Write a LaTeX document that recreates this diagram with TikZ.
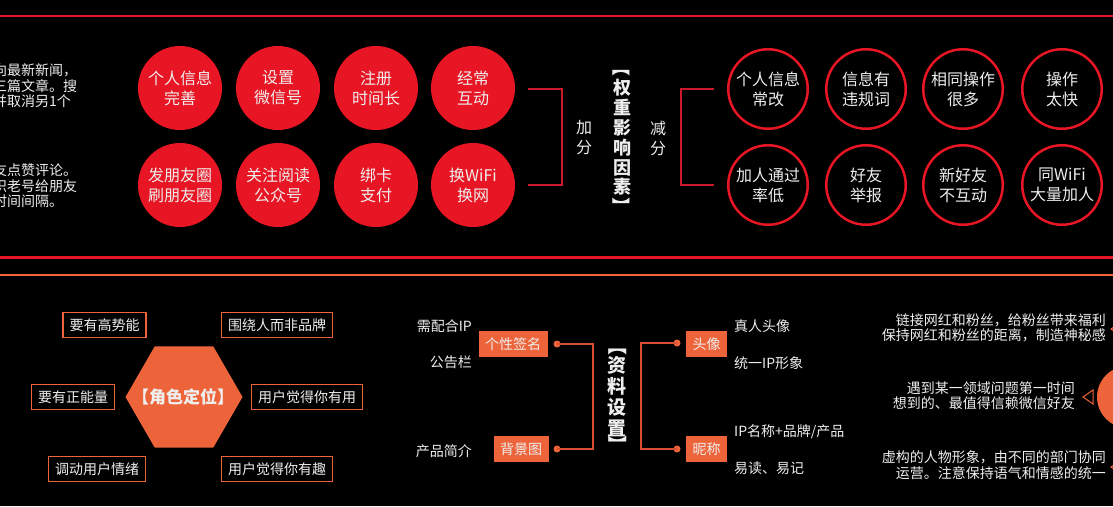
\documentclass[tikz,border=0pt]{standalone}
\usepackage{fontspec}
\setmainfont{Noto Sans CJK SC}
\usetikzlibrary{calc,shapes.geometric}
\definecolor{cred}{RGB}{232,22,36}
\definecolor{cline}{RGB}{205,25,45}
\definecolor{corange}{RGB}{238,100,58}
\definecolor{cdark}{RGB}{215,80,50}
\definecolor{ctext}{RGB}{238,238,238}
\begin{document}
\begin{tikzpicture}[x=1pt,y=-1pt,
 fillc/.style={circle,fill=cred,minimum size=84pt,inner sep=0pt,text=ctext,align=center,font=\fontsize{16}{20}\selectfont},
 ringc/.style={circle,draw=cred,line width=2.5pt,minimum size=79.5pt,inner sep=0pt,text=ctext,align=center,font=\fontsize{16}{20}\selectfont},
 obox/.style={draw=corange,line width=1.3pt,minimum height=25pt,inner xsep=6.5pt,inner ysep=0pt,text=ctext,font=\fontsize{14}{16}\selectfont},
 fbox/.style={fill=corange,minimum height=26pt,inner xsep=6.5pt,inner ysep=0pt,text=ctext,font=\fontsize{14}{16}\selectfont},
 txt/.style={text=ctext,inner sep=0pt,font=\fontsize{14}{15.5}\selectfont},
 vtitle/.style={text=ctext,inner sep=0pt,align=center,font=\fontsize{18}{19.8}\selectfont\bfseries},
 vbrack/.style={text=ctext,inner sep=0pt,rotate=-90,font=\fontsize{18}{18}\selectfont\bfseries},
 vsmall/.style={text=ctext,inner sep=0pt,align=center,font=\fontsize{16}{20}\selectfont},
 dotn/.style={circle,fill=corange,minimum size=7pt,inner sep=0pt},
 oline/.style={draw=cdark,line width=1.2pt},
 rline/.style={draw=cline,line width=1.2pt}]
\clip (0,0) rectangle (1113,506);
\fill[black] (0,0) rectangle (1113,506);

% horizontal rules
\draw[cred,line width=2.5pt] (0,16) -- (1113,16);
\draw[cred,line width=2.5pt] (0,257.5) -- (1113,257.5);
\draw[corange,line width=2pt] (0,275) -- (1113,275);

% clipped left texts
\node[txt,align=left,anchor=west] (lt1) at (-7,86) {向最新新闻，\\三篇文章。搜\\并取消另1个};
\node[txt,align=left,anchor=west] (lt2) at (-7,186) {友点赞评论。\\识老号给朋友\\时间间隔。};

% filled circles
\node[fillc] (a1) at (180,88) {个人信息\\完善};
\node[fillc] (a2) at (278,88) {设置\\微信号};
\node[fillc] (a3) at (376,88) {注册\\时间长};
\node[fillc] (a4) at (473,88) {经常\\互动};
\node[fillc] (a5) at (180,185) {发朋友圈\\刷朋友圈};
\node[fillc] (a6) at (278,185) {关注阅读\\公众号};
\node[fillc] (a7) at (376,185) {绑卡\\支付};
\node[fillc] (a8) at (473,185) {换WiFi\\换网};

% brackets top
\coordinate (bl1) at (528,89);
\coordinate (bl2) at (528,185);
\draw[rline] (bl1) -- ++(34,0) |- (bl2);
\coordinate (br1) at (714,89);
\coordinate (br2) at (714,185);
\draw[rline] (br1) -- ++(-33,0) |- (br2);

\node[vsmall] (jia) at (584,138) {加\\分};
\node[vsmall] (jian) at (658,138) {减\\分};
\node[vtitle] (wz) at (622,137.5) {权\\重\\影\\响\\因\\素};
\node[vbrack] (wzt) at (621.5,67.5) {【};
\node[vbrack] (wzb) at (621.5,206) {】};

% ring circles
\node[ringc] (b1) at (768,89) {个人信息\\常改};
\node[ringc] (b2) at (866,89) {信息有\\违规词};
\node[ringc] (b3) at (963,89) {相同操作\\很多};
\node[ringc] (b4) at (1062,89) {操作\\太快};
\node[ringc] (b5) at (768,185) {加人通过\\率低};
\node[ringc] (b6) at (866,185) {好友\\举报};
\node[ringc] (b7) at (963,185) {新好友\\不互动};
\node[ringc] (b8) at (1062,185) {同WiFi\\大量加人};

% hexagon section
\node[fill=corange,regular polygon,regular polygon sides=6,minimum size=117pt,inner sep=0pt] (hex) at (184,397) {};
\node[text=ctext,inner sep=0pt,font=\fontsize{17}{17}\selectfont\bfseries] (hext) at (183,397) {【角色定位】};
\node[obox] (h1) at (104.5,325) {要有高势能};
\node[obox] (h2) at (277,325) {围绕人而非品牌};
\node[obox] (h3) at (73,397) {要有正能量};
\node[obox] (h4) at (307,397) {用户觉得你有用};
\node[obox] (h5) at (97,469) {调动用户情绪};
\node[obox] (h6) at (277,469) {用户觉得你有趣};

% profile section
\node[txt,anchor=east] (p1) at (472,326) {需配合IP};
\node[txt,anchor=east] (p2) at (472,362) {公告栏};
\node[txt,anchor=east] (p3) at (472,451) {产品简介};
\node[fbox] (q1) at (513,344) {个性签名};
\node[fbox] (q2) at (521,449) {背景图};
\node[dotn] (d1) at (557,344) {};
\node[dotn] (d2) at (557,449) {};
\draw[oline] (d1.center) -- ++(36,0) |- (d2.center);
\node[vtitle,font=\fontsize{19}{21}\selectfont\bfseries] (zl) at (617,397) {资\\料\\设\\置};
\node[vbrack,font=\fontsize{19}{19}\selectfont\bfseries] (zlt) at (617.5,346) {【};
\node[vbrack,font=\fontsize{19}{19}\selectfont\bfseries] (zlb) at (617.5,445) {】};
\node[dotn] (d3) at (677,343) {};
\node[dotn] (d4) at (677,449) {};
\draw[oline] (d3.center) -- ++(-36,0) |- (d4.center);
\node[fbox] (q3) at (706.5,344) {头像};
\node[fbox] (q4) at (706.5,449) {昵称};
\node[txt,anchor=west] (r1) at (734,326) {真人头像};
\node[txt,anchor=west] (r2) at (734,363) {统一IP形象};
\node[txt,anchor=west] (r3) at (734,432) {IP名称+品牌/产品};
\node[txt,anchor=west] (r4) at (734,468) {易读、易记};

% right texts
\node[txt,align=right,anchor=east] (s1) at (1106,328) {链接网红和粉丝，给粉丝带来福利\\保持网红和粉丝的距离，制造神秘感};
\node[txt,align=right,anchor=east] (s2) at (1075,395.5) {遇到某一领域问题第一时间\\想到的、最值得信赖微信好友};
\node[txt,align=right,anchor=east] (s3) at (1106,465) {虚构的人物形象，由不同的部门协同\\运营。注意保持语气和情感的统一};
\draw[corange,line width=1pt,line join=miter] (1083,397) -- (1093,390) -- (1093,404) -- cycle;
\draw[corange,line width=1pt] (1111,329) -- (1121,322) -- (1121,336) -- cycle;
\draw[corange,line width=1pt] (1111,467) -- (1121,460) -- (1121,474) -- cycle;
\fill[corange] (1128,397) circle (31);
\end{tikzpicture}
\end{document}
